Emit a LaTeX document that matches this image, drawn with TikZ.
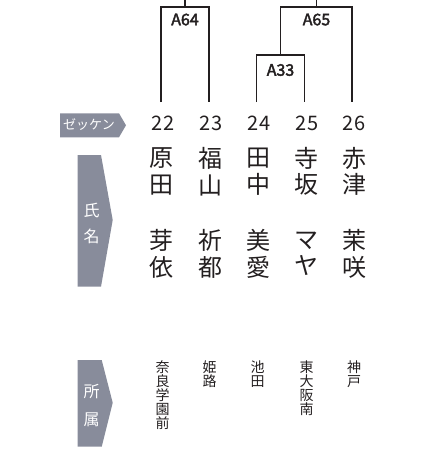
\documentclass[tikz,border=0pt]{standalone}
\usepackage{fontspec}
\setmainfont{Noto Sans CJK JP}
\newfontfamily\jp{Noto Sans CJK JP}
\newfontfamily\lblfont[FakeBold=2.5]{Noto Sans CJK JP}
\definecolor{tabgray}{HTML}{888C9B}
\definecolor{ink}{HTML}{231F20}
\begin{document}
\begin{tikzpicture}[x=1pt,y=-1pt,
  bracket/.style={draw=ink,line width=1.6pt},
  matchlbl/.style={font=\fontsize{16}{16}\selectfont\lblfont,text=ink,inner sep=0},
  numlbl/.style={font=\fontsize{20}{20}\selectfont,text=ink,inner sep=0},
  namelbl/.style={font=\fontsize{24}{26.5}\selectfont\jp,text=ink,align=center,inner sep=0},
  clublbl/.style={font=\fontsize{14}{14}\selectfont\jp,text=ink,align=center,inner sep=0,anchor=north},
  tab/.style={fill=tabgray},
  tablbl/.style={text=white,inner sep=0}]
\useasboundingbox (0,0) rectangle (430,450);
% bracket coordinates
\coordinate (p22) at (161,102);
\coordinate (p23) at (209,102);
\coordinate (p24) at (256.5,102);
\coordinate (p25) at (304.5,102);
\coordinate (p26) at (352,102);
\coordinate (m64) at (185,7);
\coordinate (m33) at (280.5,55);
\coordinate (m65) at (316.5,7);
\coordinate (t64) at (185,0);
\coordinate (t65) at (316.5,0);
\draw[bracket] (p22) |- (m64) -| (p23);
\draw[bracket] (m64) -- (t64);
\draw[bracket] (p24) |- (m33) -| (p25);
\draw[bracket] (m33) |- (m65) -| (p26);
\draw[bracket] (m65) -- (t65);
\node[matchlbl] (l64) at (185,19.5) {A64};
\node[matchlbl] (l65) at (316.5,19.5) {A65};
\node[matchlbl] (l33) at (280.5,70) {A33};
% numbers
\node[numlbl] (n22) at (163,123) {22};
\node[numlbl] (n23) at (211,123) {23};
\node[numlbl] (n24) at (259,123) {24};
\node[numlbl] (n25) at (307,123) {25};
\node[numlbl] (n26) at (354,123) {26};
% names
\node[namelbl] (f22) at (161.5,171.5) {原\\田};
\node[namelbl] (f23) at (210,171.5) {福\\山};
\node[namelbl] (f24) at (258,171.5) {田\\中};
\node[namelbl] (f25) at (306.5,171.5) {寺\\坂};
\node[namelbl] (f26) at (354,171.5) {赤\\津};
\node[namelbl] (g22) at (161.5,254) {芽\\依};
\node[namelbl] (g23) at (210,254) {祈\\都};
\node[namelbl] (g24) at (258,254) {美\\愛};
\node[namelbl] (g25) at (306.5,254) {マ\\ヤ};
\node[namelbl] (g26) at (354,254) {茉\\咲};
% clubs
\node[clublbl] (c22) at (162.5,361) {奈\\良\\学\\園\\前};
\node[clublbl] (c23) at (209.7,361) {姫\\路};
\node[clublbl] (c24) at (257.7,361) {池\\田};
\node[clublbl] (c25) at (306.7,361) {東\\大\\阪\\南};
\node[clublbl] (c26) at (354,361) {神\\戸};
% tabs
\fill[tab] (60,113.3) -- (119,113.3) -- (126,125.3) -- (119,137.3) -- (60,137.3) -- cycle;
\node[tablbl,font=\fontsize{13}{13}\selectfont\jp] (tz) at (89,125) {ゼッケン};
\fill[tab] (77.7,155) -- (101,155) -- (112.7,220) -- (101,286.7) -- (77.7,286.7) -- cycle;
\node[tablbl,font=\fontsize{16}{16}\selectfont\jp] (ts1) at (91.5,210) {氏};
\node[tablbl,font=\fontsize{16}{16}\selectfont\jp] (ts2) at (91.5,236) {名};
\fill[tab] (77.7,360) -- (101.7,360) -- (112.7,402.7) -- (101.7,446.7) -- (77.7,446.7) -- cycle;
\node[tablbl,font=\fontsize{16}{16}\selectfont\jp] (tb1) at (91.5,391.7) {所};
\node[tablbl,font=\fontsize{16}{16}\selectfont\jp] (tb2) at (91.5,420) {属};
\end{tikzpicture}
\end{document}
